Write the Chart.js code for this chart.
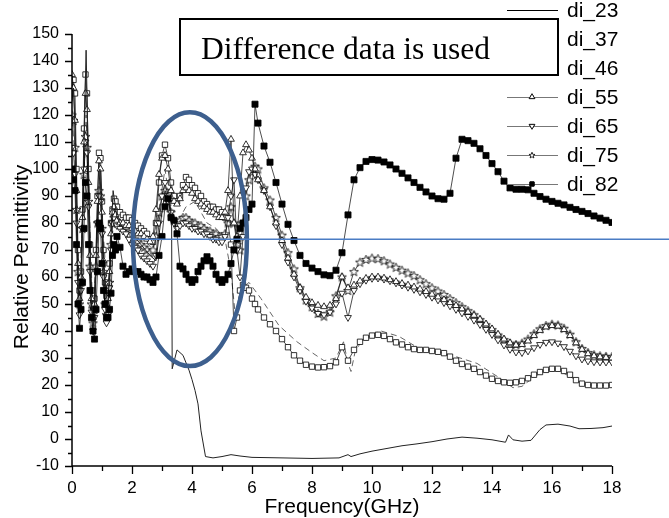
<!DOCTYPE html>
<html>
<head>
<meta charset="utf-8">
<script src="https://cdn.jsdelivr.net/npm/chart.js@4.4.0/dist/chart.umd.min.js"></script>
<style>
  html, body { margin: 0; padding: 0; background: #fff; }
  #wrap { width: 669px; height: 518px; }
</style>
</head>
<body>
<div id="wrap"><canvas id="permChart" width="669" height="518"></canvas></div>
<script>
// Frequency grid (GHz) shared by the marker series
const freq = [
  0, 0.05, 0.1, 0.15, 0.2, 0.25, 0.3, 0.35, 0.4, 0.45, 0.5, 0.55, 0.6, 0.65, 0.7, 0.75, 0.8, 0.85, 0.9, 0.95,
  1.0, 1.05, 1.1, 1.15, 1.2, 1.25, 1.3, 1.35, 1.4, 1.45, 1.5,
  1.6, 1.7, 1.8, 1.9, 2.0, 2.1, 2.2, 2.3, 2.4, 2.5, 2.6, 2.7, 2.8, 2.9, 3.0, 3.1, 3.2, 3.3, 3.4, 3.5,
  3.6, 3.7, 3.8, 3.9, 4.0, 4.1, 4.2, 4.3, 4.4, 4.5, 4.6, 4.7, 4.8, 4.9, 5.0, 5.1, 5.2, 5.3, 5.4, 5.5,
  5.6, 5.7, 5.8, 5.9, 6.0, 6.1, 6.2,
  6.4, 6.6, 6.8, 7.0, 7.2, 7.4, 7.6, 7.8, 8.0, 8.2, 8.4, 8.6, 8.8, 9.0, 9.2, 9.4, 9.6, 9.8, 10.0, 10.2,
  10.4, 10.6, 10.8, 11.0, 11.2, 11.4, 11.6, 11.8, 12.0, 12.2, 12.4, 12.6, 12.8, 13.0, 13.2, 13.4, 13.6, 13.8, 14.0, 14.2,
  14.4, 14.6, 14.8, 15.0, 15.2, 15.4, 15.6, 15.8, 16.0, 16.2, 16.4, 16.6, 16.8, 17.0, 17.2, 17.4, 17.6, 17.8, 18.0
];

const di37 = [
  130, 133, 128, 100, 70, 55, 62, 85, 115, 135, 128, 100, 72, 55, 48, 52, 70, 90, 106, 104, 88, 70, 58, 53, 55, 65, 80, 85, 89, 88, 86,
  84, 83, 82, 82, 81, 80, 79, 78, 77, 76, 74, 73, 80, 95, 105, 109, 104, 95, 90, 88, 90, 94, 97, 96, 94, 93, 91, 90, 88, 87,
  86, 86, 85, 85, 84, 82, 80, 72, 40, 45, 55, 57, 56, 55, 52, 50, 48,
  45, 42.5, 40, 37, 34, 31, 29, 27.5, 26.8, 26.5, 26.6, 27, 28.4, 34, 29, 33, 36, 37.5, 38.3, 38.6,
  38.2, 37, 35.8, 35, 34, 33.3, 33, 33, 32.6, 32.3, 31.8, 30.5, 29, 27.8, 26.8, 26, 24.8, 23.5, 22.3, 21.5,
  21, 20.8, 21, 21.5, 22.5, 23.8, 24.8, 25.6, 26, 26, 25.2, 23.8, 21.8, 20.5, 20, 19.8, 19.8, 19.8, 20
];

const di55 = [
  135, 130, 118, 92, 65, 52, 60, 82, 110, 128, 122, 95, 68, 52, 45, 50, 68, 88, 103, 100, 84, 66, 55, 50, 52, 62, 76, 84, 86, 83, 81,
  80, 80, 79, 79, 78, 77, 76, 76, 75, 74, 73, 75, 85, 98, 104, 105, 100, 92, 88, 87, 89, 92, 93, 92, 91, 89, 88, 87, 86, 85,
  84, 84, 83, 82, 82, 84, 92, 111, 80, 75, 90, 106, 109, 107, 104, 100, 96,
  92, 86, 80, 73.5, 67, 61, 56, 52.5, 50.5, 49.5, 49, 49.5, 52, 60, 56, 57, 58.5, 59.5, 60, 60,
  59.6, 59, 58.3, 57.6, 57, 56.3, 55.5, 54.6, 53.6, 52.6, 51.6, 50.5, 49.4, 48.2, 47, 45.8, 44.3, 42.6, 40.8, 38.8,
  37, 35.6, 34.8, 35, 36.3, 38.3, 40.2, 41.5, 42, 41.8, 40.5, 38.3, 35.6, 33.2, 31.6, 30.8, 30.4, 30.2, 30
];

const di65 = [
  108, 106, 98, 80, 58, 46, 55, 78, 100, 110, 106, 86, 62, 47, 40, 45, 62, 80, 90, 88, 76, 60, 48, 43, 46, 56, 70, 80, 82, 80, 79,
  78, 77, 76, 74, 72, 71, 70, 68, 67, 66, 65, 64, 68, 80, 90, 95, 90, 84, 80, 78, 79, 80, 80, 79, 78, 78, 77, 77, 76, 76,
  75, 74, 74, 73, 73, 75, 82, 90, 96, 70, 60, 75, 93, 99, 100, 98, 96,
  92, 86, 79, 72, 65.5, 60, 55, 51, 48.5, 46.5, 46, 47, 50, 54, 45, 55, 57.5, 58.8, 59.5, 59.6,
  59.2, 58.6, 57.8, 57, 56.2, 55.4, 54.5, 53.5, 52.5, 51.5, 50.5, 49.3, 48, 46.7, 45.4, 44, 42.4, 40.6, 38.7, 36.7,
  34.8, 33.2, 32.2, 32, 32.6, 33.8, 35, 35.8, 36, 35.5, 34.2, 32.5, 30.8, 29.6, 28.9, 28.6, 28.5, 28.5, 28.5
];

const di75 = [
  120, 118, 108, 85, 62, 50, 58, 78, 98, 112, 108, 88, 64, 50, 43, 48, 64, 80, 92, 90, 78, 62, 50, 46, 48, 58, 72, 80, 82, 81, 80,
  80, 79, 78, 77, 76, 74, 73, 72, 71, 70, 69, 70, 75, 84, 90, 92, 88, 84, 81, 80, 81, 82, 82, 81, 80, 80, 79, 79, 78, 77,
  77, 76, 76, 75, 75, 76, 80, 86, 80, 72, 70, 80, 90, 96, 99, 101, 100,
  93, 88.5, 82, 75.5, 69, 63, 56, 51.5, 49, 46.5, 45.5, 47, 53, 60, 55, 62, 65.5, 66.5, 67, 66.8,
  66, 64.8, 63.6, 62.5, 61.5, 60.5, 59, 57.5, 56, 54.8, 53.5, 52, 50.5, 49, 47.5, 46, 44.2, 42.3, 40.5, 38.5,
  36.8, 35.5, 35, 35.5, 37, 39, 40.8, 42, 42.5, 42.2, 41, 38.8, 36, 33.5, 32, 31.2, 30.8, 30.6, 30.5
];

const di82 = [
  100, 96, 92, 72, 50, 41, 48, 58, 78, 95, 90, 72, 55, 45, 40, 37, 48, 62, 80, 78, 65, 55, 50, 45, 45, 48, 54, 68, 72, 70, 75,
  71, 64, 61, 62, 63, 62, 62, 61, 60, 60, 59, 58, 60, 68, 75, 86, 89, 82, 81, 76, 64, 63, 61, 59, 58, 59, 62, 64, 66, 67.5,
  66, 64, 61, 59, 58, 59, 61, 65, 70, 74, 78, 80, 82, 85, 87, 124, 117,
  108.5, 102.5, 95, 87, 79.5, 73.5, 68, 65, 63.3, 62, 60.8, 60.5, 62.5, 69, 83, 96, 100.5, 102.8, 103.5, 103.3,
  102.6, 101.5, 100, 98.4, 96.7, 95, 93.2, 91.5, 90, 89, 88.8, 91, 104, 111, 110.5, 109.5, 107.5, 105, 102, 99,
  95.5, 93, 92.5, 92.5, 92.3, 91, 89.8, 88.8, 88, 87.3, 86.7, 85.8, 85, 84.3, 83.5, 82.6, 81.8, 81, 80.2
];

// di_23 is a plain line, sampled on its own grid
const freq23 = [0, 0.05, 0.1, 0.2, 0.25, 0.3, 0.4, 0.47, 0.55, 0.65, 0.72, 0.8, 0.93, 1.05, 1.2, 1.3, 1.37, 1.5, 1.7, 2.0,
  2.3, 2.6, 2.8, 2.95, 3.1, 3.25, 3.32, 3.34, 3.5, 3.7, 3.9, 4.0, 4.1, 4.2, 4.3, 4.45, 4.7, 5.0, 5.3, 5.6,
  6.0, 7.0, 8.0, 8.9, 9.2, 9.3, 9.6, 10.0, 10.5, 11.0, 11.5, 12.0, 12.5, 13.0, 13.5, 14.0, 14.45, 14.55, 14.7, 15.0,
  15.3, 15.6, 15.8, 16.2, 16.6, 16.9, 17.3, 17.7, 18.0];
const di23 = [125, 130, 115, 60, 48, 55, 110, 144, 100, 50, 42, 65, 100, 65, 48, 75, 92, 82, 78, 76,
  72, 68, 66, 80, 92, 88, 82, 26, 33, 31, 25.5, 22, 18, 13, 3, -6.5, -7, -6.5, -5.8, -6.3,
  -6.8, -7, -7.2, -7, -5.8, -6.5, -5.5, -4.5, -3.5, -2.5, -1.8, -1, 0, 0.7, 0.3, -0.3, -1.2, 1.5, -0.3, -0.8,
  -0.5, 3.5, 5.2, 5.5, 4.8, 3.8, 3.9, 4.2, 4.8];

// di_46 is a dashed line, sampled on its own grid
const freq46 = [0, 0.1, 0.25, 0.47, 0.7, 0.93, 1.2, 1.4, 1.7, 2.0, 2.4, 2.7, 2.9, 3.1, 3.3, 3.5, 3.8, 4.1, 4.5, 4.8,
  5.1, 5.3, 5.45, 5.6, 5.9, 6.3, 6.9, 7.5, 8.0, 8.4, 8.8, 9.05, 9.2, 9.3, 9.45, 9.8, 10.3, 10.9, 11.5, 12.2,
  12.8, 13.5, 14.2, 14.7, 15.0, 15.4, 15.8, 16.2, 16.7, 17.2, 18.0];
const di46 = [118, 105, 50, 120, 45, 95, 50, 84, 80, 78, 74, 70, 85, 100, 84, 80, 86, 88, 80, 78,
  74, 62, 45, 55, 58, 52, 42, 36, 32, 29, 30, 36, 28, 25, 33, 38, 40, 38, 34, 32.5,
  30.5, 28, 23, 19, 19.5, 23, 25.5, 25.5, 22.5, 20.2, 19.8];

const seriesNames = ['di_23', 'di_37', 'di_46', 'di_55', 'di_65', 'di_75', 'di_82'];
const xRange = [0, 18];
const yRange = [-10, 150];

const toPoints = (xs, ys) => ys.map((v, i) => ({ x: xs[i], y: v }));

// open five-point star marker
function makeStar(size) {
  const c = document.createElement('canvas');
  c.width = size; c.height = size;
  const g = c.getContext('2d');
  const cx = size / 2, cy = size / 2 + 0.4, R = size / 2 - 0.8, r = R * 0.42;
  g.beginPath();
  for (let i = 0; i < 10; i++) {
    const rad = i % 2 === 0 ? R : r;
    const a = -Math.PI / 2 + i * Math.PI / 5;
    const px = cx + rad * Math.cos(a), py = cy + rad * Math.sin(a);
    if (i === 0) g.moveTo(px, py); else g.lineTo(px, py);
  }
  g.closePath();
  g.fillStyle = '#fff'; g.fill();
  g.lineWidth = 0.8; g.strokeStyle = '#000'; g.stroke();
  return c;
}
const starMark = makeStar(11);
const starSmall = makeStar(8);

const markerLine = {
  borderColor: '#000', borderWidth: 0.7, pointBorderColor: '#000', pointBorderWidth: 0.8,
  pointBackgroundColor: '#fff', tension: 0, fill: false
};

const datasets = [
  { label: seriesNames[0], data: toPoints(freq23, di23), borderColor: '#222', borderWidth: 1, pointRadius: 0, order: 1 },
  Object.assign({ label: seriesNames[1], data: toPoints(freq, di37), pointStyle: 'rect', pointRadius: 3.8, order: 3 }, markerLine),
  { label: seriesNames[2], data: toPoints(freq46, di46), borderColor: '#666', borderWidth: 1, borderDash: [6, 4], pointRadius: 0, order: 4 },
  Object.assign({ label: seriesNames[3], data: toPoints(freq, di55), pointStyle: 'triangle', pointRadius: 3.9, order: 2 }, markerLine),
  Object.assign({ label: seriesNames[4], data: toPoints(freq, di65), pointStyle: 'triangle', pointRotation: 180, pointRadius: 3.9, order: 2 }, markerLine),
  Object.assign({ label: seriesNames[5], data: toPoints(freq, di75), pointStyle: starMark, order: 2 }, markerLine),
  Object.assign({ label: seriesNames[6], data: toPoints(freq, di82), pointStyle: 'rect', pointRadius: 4.3, order: 0 }, markerLine, { pointBackgroundColor: '#000' })
];

// axes, minor ticks, legend, label box and the hand-drawn ellipse / marker line
const decorPlugin = {
  id: 'decor',
  afterDraw(chart) {
    const ctx = chart.ctx;
    const xs = chart.scales.x, ys = chart.scales.y;
    const area = chart.chartArea;
    ctx.save();

    ctx.strokeStyle = '#000';
    ctx.lineWidth = 1.5;
    ctx.beginPath();
    ctx.moveTo(area.left, area.top);
    ctx.lineTo(area.left, area.bottom);
    ctx.lineTo(area.right, area.bottom);
    ctx.stroke();

    ctx.lineWidth = 1.3;
    ctx.beginPath();
    for (let v = yRange[0]; v <= yRange[1]; v += 5) {
      const py = Math.round(ys.getPixelForValue(v)) + 0.5;
      const len = v % 10 === 0 ? 7 : 4;
      ctx.moveTo(area.left - len, py);
      ctx.lineTo(area.left, py);
    }
    for (let v = xRange[0]; v <= xRange[1]; v += 1) {
      const px = Math.round(xs.getPixelForValue(v)) + 0.5;
      const len = v % 2 === 0 ? 8 : 5;
      ctx.moveTo(px, area.bottom);
      ctx.lineTo(px, area.bottom + len);
    }
    ctx.stroke();

    // y axis title
    ctx.fillStyle = '#000';
    ctx.font = '21px "Liberation Sans", Arial, sans-serif';
    ctx.textAlign = 'center';
    ctx.textBaseline = 'middle';
    ctx.save();
    ctx.translate(22, 257);
    ctx.rotate(-Math.PI / 2);
    ctx.fillText('Relative Permittivity', 0, 0);
    ctx.restore();

    // legend
    ctx.textAlign = 'left';
    ctx.font = '21px "Liberation Sans", Arial, sans-serif';
    chart.data.datasets.forEach((ds, i) => {
      const y = 10 + i * 29;
      ctx.save();
      ctx.strokeStyle = i === 0 ? '#000' : '#777';
      ctx.lineWidth = 1;
      ctx.setLineDash(ds.borderDash || []);
      ctx.beginPath();
      ctx.moveTo(507, y + 0.5);
      ctx.lineTo(558, y + 0.5);
      ctx.stroke();
      ctx.restore();
      if (ds.pointStyle instanceof HTMLCanvasElement) {
        ctx.drawImage(starSmall, 532 - 4, y - 4);
      } else if (ds.pointStyle) {
        Chart.helpers.drawPoint(ctx, {
          pointStyle: ds.pointStyle, radius: ds.pointStyle === 'rect' ? 3 : 3.2,
          rotation: ds.pointRotation || 0, borderWidth: 0.8
        }, 532, y);
        ctx.fillStyle = ds.pointBackgroundColor;
        ctx.strokeStyle = '#000';
        ctx.lineWidth = 0.8;
        ctx.fill();
        ctx.stroke();
      }
      ctx.fillStyle = '#000';
      ctx.fillText(ds.label, 567, y + 1);
    });

    // text box
    ctx.fillStyle = '#fff';
    ctx.fillRect(180, 19, 378, 56);
    ctx.strokeStyle = '#000';
    ctx.lineWidth = 2;
    ctx.strokeRect(180, 19, 378, 56);
    ctx.fillStyle = '#000';
    ctx.font = '31.5px "Liberation Serif", "Times New Roman", serif';
    ctx.textBaseline = 'alphabetic';
    ctx.fillText('Difference data is used', 201, 59);

    // ellipse around 2.1-5.8 GHz
    const ex = xs.getPixelForValue(3.93), ey = ys.getPixelForValue(74);
    const erx = xs.getPixelForValue(3.93 + 1.9) - ex;
    const ery = ey - ys.getPixelForValue(74 + 47);
    ctx.strokeStyle = '#3d5f8e';
    ctx.lineWidth = 4.5;
    ctx.beginPath();
    ctx.ellipse(ex, ey, erx, ery, 0, 0, Math.PI * 2);
    ctx.stroke();

    // horizontal reference line at ~74
    const ly = ys.getPixelForValue(74);
    ctx.strokeStyle = '#4a7cc4';
    ctx.lineWidth = 1.5;
    ctx.beginPath();
    ctx.moveTo(ex - erx, ly);
    ctx.lineTo(chart.width, ly);
    ctx.stroke();

    ctx.restore();
  }
};

new Chart(document.getElementById('permChart'), {
  type: 'line',
  data: { datasets: datasets },
  options: {
    responsive: false,
    animation: false,
    devicePixelRatio: 1,
    layout: { padding: { top: 34, right: 57, left: 0, bottom: 0 } },
    plugins: { legend: { display: false }, tooltip: { enabled: false } },
    scales: {
      x: {
        type: 'linear', min: xRange[0], max: xRange[1],
        grid: { display: true, drawOnChartArea: false, drawTicks: true, tickLength: 8, color: 'rgba(0,0,0,0)' },
        border: { display: false },
        ticks: { stepSize: 2, padding: 4, color: '#000', maxRotation: 0, font: { family: '"Liberation Sans", Arial, sans-serif', size: 17 } },
        title: { display: true, text: 'Frequency(GHz)', color: '#000', padding: { top: 0, bottom: 0.5 },
          font: { family: '"Liberation Sans", Arial, sans-serif', size: 21, lineHeight: 1 } },
        afterFit(scale) { scale.height = 52; }
      },
      y: {
        min: yRange[0], max: yRange[1],
        grid: { display: true, drawOnChartArea: false, drawTicks: true, tickLength: 8, color: 'rgba(0,0,0,0)' },
        border: { display: false },
        ticks: { stepSize: 10, padding: 5, color: '#000', font: { family: '"Liberation Sans", Arial, sans-serif', size: 16 } },
        afterFit(scale) { scale.width = 72; }
      }
    }
  },
  plugins: [decorPlugin]
});
</script>
</body>
</html>
